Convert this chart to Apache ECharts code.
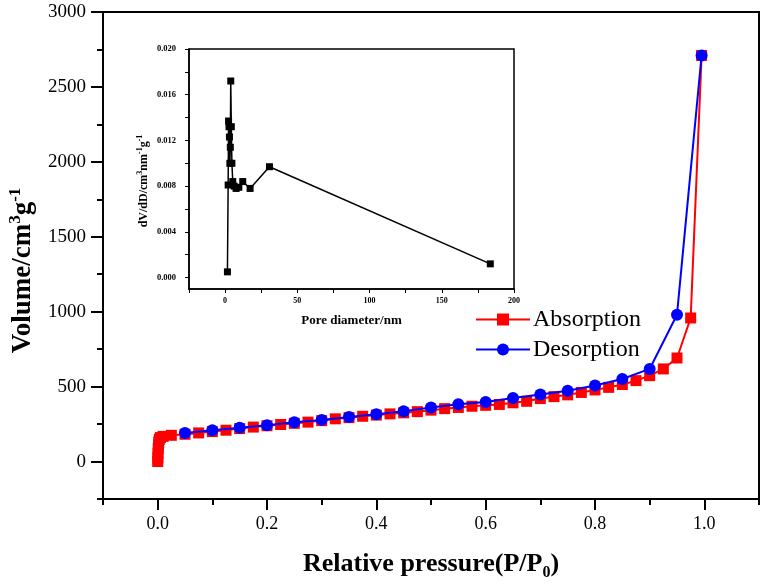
<!DOCTYPE html>
<html><head><meta charset="utf-8">
<script src="https://cdn.jsdelivr.net/npm/echarts@6/dist/echarts.min.js"></script>
<style>html,body{margin:0;padding:0;background:#fff}#c{width:766px;height:587px}</style>
</head><body><div id="c"></div>
<script>
const seriesNames = ['Absorption', 'Desorption'];
const absX = [0.0001,0.0003,0.0006,0.001,0.0015,0.002,0.003,0.005,0.01,
  0.025,0.05,0.075,0.1,0.125,0.15,0.175,0.2,0.225,0.25,
  0.275,0.3,0.325,0.35,0.375,0.4,0.425,0.45,0.475,0.5,
  0.525,0.55,0.575,0.6,0.625,0.65,0.675,0.7,0.725,0.75,
  0.775,0.8,0.825,0.85,0.875,0.9,0.925,0.95,0.975,0.995];
const absY = [0,25,55,85,110,130,148,160,168,
  175,182,191,200,209,220,230,239,247,255,
  263,273,285,293,302,310,318,325,333,343,
  353,361,369,375,381,392,402,420,433,445,
  461,478,495,514,540,573,618,691,958,2710];
const desX = [0.05,0.1,0.15,0.2,0.25,0.3,0.35,0.4,0.45,0.5,0.55,0.6,0.65,0.7,0.75,0.8,0.85,0.9,0.95,0.995];
const desY = [191,209,225,242,262,278,298,316,335,360,383,397,424,447,473,507,551,618,980,2710];
const poreD = [1.6,2.1,2.4,2.7,3.0,3.3,3.6,3.9,4.3,4.7,5.3,6.3,7.6,9.5,12.2,17.3,30.7,183.6];
const dVdD = [0.0005,0.0081,0.0137,0.0132,0.0123,0.0100,0.0114,0.0172,0.0132,0.0100,0.0084,0.0080,0.0078,0.0079,0.0084,0.0078,0.0097,0.0012];
const mainXLabels = [0,0.2,0.4,0.6,0.8,1.0];
const mainXMinor = [-0.1,0.1,0.3,0.5,0.7,0.9,1.1];
const mainYLabels = [0,500,1000,1500,2000,2500,3000];
const mainYMinor = [-250,250,750,1250,1750,2250,2750];
const insetXLabels = [0,50,100,150,200];
const insetXTicks = [-25,0,25,50,75,100,125,150,175,200];
const insetYLabels = [0,0.004,0.008,0.012,0.016,0.020];
const insetYTicks = [0,0.002,0.004,0.006,0.008,0.010,0.012,0.014,0.016,0.018,0.020];

const zip = (a, b) => a.map((v, i) => [v, b[i]]);
const SERIF = '"Liberation Serif", "Times New Roman", serif';
const BLK = '#000';
const line2 = {onZero: false, lineStyle: {color: BLK, width: 2}};
const noLine = {show: false, onZero: false};

const chart = echarts.init(document.getElementById('c'), null, {renderer: 'canvas'});
chart.setOption({
  animation: false,
  backgroundColor: '#fff',
  grid: [
    {left: 103, right: 7, top: 12, bottom: 88, show: true, borderColor: BLK, borderWidth: 2, backgroundColor: 'transparent', outerBoundsMode: 'none'},
    {left: 189, right: 252, top: 49, bottom: 298, show: true, borderColor: BLK, borderWidth: 1.5, backgroundColor: 'transparent', outerBoundsMode: 'none'}
  ],
  legend: {
    data: seriesNames, orient: 'vertical', left: 470, top: 302,
    itemWidth: 54, itemHeight: 15, itemGap: 5,
    textStyle: {fontFamily: SERIF, fontSize: 24, color: BLK, lineHeight: 25, padding: [0, 0, 0, -2]}
  },
  xAxis: [
    {gridIndex: 0, type: 'value', min: -0.1, max: 1.1, position: 'bottom',
     axisLine: line2, splitLine: {show: false},
     axisTick: {customValues: mainXLabels, length: 11, lineStyle: {color: BLK, width: 2}},
     axisLabel: {customValues: mainXLabels, formatter: v => v.toFixed(1), margin: 16, fontFamily: SERIF, fontSize: 18, color: BLK},
     name: '{b|Relative pressure(P/P}{s|0}{b|)}', nameLocation: 'middle', nameGap: 48,
     nameTextStyle: {rich: {
       b: {fontFamily: SERIF, fontSize: 26, fontWeight: 'bold', color: BLK, lineHeight: 34, verticalAlign: 'middle'},
       s: {fontFamily: SERIF, fontSize: 16, fontWeight: 'bold', color: BLK, lineHeight: 14, verticalAlign: 'bottom'}
     }}},
    {gridIndex: 0, type: 'value', min: -0.1, max: 1.1, position: 'bottom',
     axisLine: noLine, splitLine: {show: false}, axisLabel: {show: false},
     axisTick: {customValues: mainXMinor, length: 6, lineStyle: {color: BLK, width: 2}}},
    {gridIndex: 1, type: 'value', min: -25, max: 200, position: 'bottom',
     axisLine: {onZero: false, lineStyle: {color: BLK, width: 1.5}}, splitLine: {show: false},
     axisTick: {customValues: insetXTicks, length: 4, lineStyle: {color: BLK, width: 1}},
     axisLabel: {customValues: insetXLabels, margin: 8, fontFamily: SERIF, fontSize: 8, fontWeight: 'bold', color: BLK},
     name: 'Pore diameter/nm', nameLocation: 'middle', nameGap: 25,
     nameTextStyle: {fontFamily: SERIF, fontSize: 13, fontWeight: 'bold', color: BLK}}
  ],
  yAxis: [
    {gridIndex: 0, type: 'value', min: -250, max: 3000, position: 'left',
     axisLine: line2, splitLine: {show: false},
     axisTick: {customValues: mainYLabels, length: 12, lineStyle: {color: BLK, width: 2}},
     axisLabel: {customValues: mainYLabels, formatter: v => String(Math.round(v)), margin: 17, fontFamily: SERIF, fontSize: 19, color: BLK},
     name: '{b|Volume/cm}{p|3}{b|g}{p|-1}', nameLocation: 'middle', nameRotate: 90, nameGap: 64,
     nameTextStyle: {padding: [0, 30, 0, 0], rich: {
       b: {fontFamily: SERIF, fontSize: 27, fontWeight: 'bold', color: BLK, lineHeight: 32, verticalAlign: 'middle'},
       p: {fontFamily: SERIF, fontSize: 17, fontWeight: 'bold', color: BLK, lineHeight: 14, verticalAlign: 'top'}
     }}},
    {gridIndex: 0, type: 'value', min: -250, max: 3000, position: 'left',
     axisLine: noLine, splitLine: {show: false}, axisLabel: {show: false},
     axisTick: {customValues: mainYMinor, length: 6, lineStyle: {color: BLK, width: 2}}},
    {gridIndex: 1, type: 'value', min: -0.001, max: 0.020, position: 'left',
     axisLine: {onZero: false, lineStyle: {color: BLK, width: 1.5}}, splitLine: {show: false},
     axisTick: {customValues: insetYTicks, length: 4, lineStyle: {color: BLK, width: 1}},
     axisLabel: {customValues: insetYLabels, formatter: v => v.toFixed(3), margin: 13, fontFamily: SERIF, fontSize: 8.5, fontWeight: 'bold', color: BLK},
     name: '{b|dV/dD/cm}{p|3}{b|nm}{p|-1}{b|g}{p|-1}', nameLocation: 'middle', nameRotate: 90, nameGap: 38,
     nameTextStyle: {padding: [0, 24, 0, 0], rich: {
       b: {fontFamily: SERIF, fontSize: 12, fontWeight: 'bold', color: BLK, lineHeight: 15, verticalAlign: 'middle'},
       p: {fontFamily: SERIF, fontSize: 8, fontWeight: 'bold', color: BLK, lineHeight: 8, verticalAlign: 'top'}
     }}}
  ],
  series: [
    {name: seriesNames[0], type: 'line', xAxisIndex: 0, yAxisIndex: 0, data: zip(absX, absY),
     symbol: 'rect', symbolSize: 11, color: '#ff0000', itemStyle: {color: '#ff0000'},
     lineStyle: {color: '#ff0000', width: 2}, z: 2},
    {name: seriesNames[1], type: 'line', xAxisIndex: 0, yAxisIndex: 0, data: zip(desX, desY),
     symbol: 'circle', symbolSize: 12, color: '#0000ff', itemStyle: {color: '#0000ff'},
     lineStyle: {color: '#0000ff', width: 2}, z: 3},
    {name: 'PSD', type: 'line', xAxisIndex: 2, yAxisIndex: 2, data: zip(poreD, dVdD),
     symbol: 'rect', symbolSize: 7, itemStyle: {color: BLK}, lineStyle: {color: BLK, width: 1.5}, z: 4}
  ]
});
</script></body></html>
